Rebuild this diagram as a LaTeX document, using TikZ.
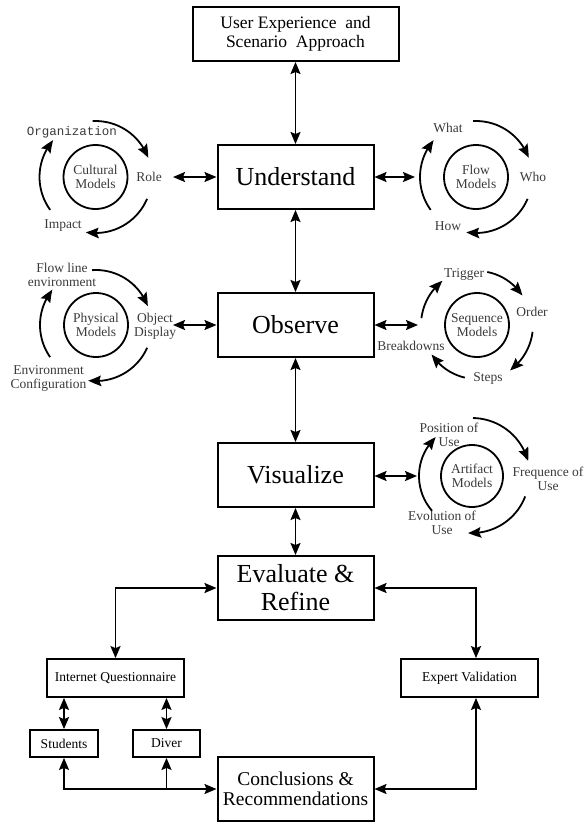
\documentclass[tikz,border=0pt]{standalone}
\usepackage{fontspec}
\setmainfont{Liberation Serif}
\newfontfamily\monofnt{Liberation Mono}
\usetikzlibrary{arrows.meta,bending}
\definecolor{lab}{HTML}{3A3A3A}
\begin{document}
\begin{tikzpicture}[x=1pt,y=1pt,
  box/.style={draw, line width=2pt, inner sep=0pt, align=center},
  bigbox/.style={box, minimum width=156pt, minimum height=64pt, font=\fontsize{26}{28}\selectfont},
  smallbox/.style={box, line width=1.8pt, minimum height=38pt, font=\fontsize{13.5}{14}\selectfont},
  tinybox/.style={box, line width=1.8pt, minimum height=27pt, font=\fontsize{13.5}{14}\selectfont},
  conn/.style={line width=1.8pt, {Stealth[length=12pt,width=10pt,inset=2pt]}-{Stealth[length=12pt,width=10pt,inset=2pt]}},
  oneway/.style={line width=1.8pt, -{Stealth[length=12pt,width=10pt,inset=2pt]}},
  cyc/.style={line width=1.8pt, -{Stealth[length=13pt,width=10.5pt,inset=2pt,bend]}},
  ring/.style={draw, circle, line width=1.8pt, minimum size=64pt, inner sep=0pt},
  lbl/.style={text=lab, align=center, inner sep=0pt, font=\fontsize{13.5}{14}\selectfont},
  inlbl/.style={lbl, font=\fontsize{13.5}{14.5}\selectfont}
]
\useasboundingbox (0,0) rectangle (587,-823);

% main boxes
\node[box, minimum width=206pt, minimum height=54pt, font=\fontsize{17.5}{18.5}\selectfont] (top) at (295.5,-34) {User Experience\ \ and\\Scenario\ \ Approach};
\node[bigbox] (und) at (295.5,-177) {Understand};
\node[bigbox] (obs) at (295.5,-325) {Observe};
\node[bigbox] (vis) at (295.5,-475) {Visualize};
\node[bigbox] (eval) at (295.5,-588) {Evaluate \&\\Refine};
\node[bigbox, font=\fontsize{19.5}{20.5}\selectfont] (conc) at (295.5,-789) {Conclusions \&\\Recommendations};
\node[smallbox, minimum width=137pt] (iq) at (115.5,-678) {Internet Questionnaire};
\node[smallbox, minimum width=137pt] (ev) at (469.5,-678) {Expert Validation};
\node[tinybox, minimum width=68pt] (stu) at (64,-743.5) {Students};
\node[tinybox, minimum width=67pt] (div) at (166.5,-743.5) {Diver};

% vertical chain
\draw[conn] (top) -- (und);
\draw[conn] (und) -- (obs);
\draw[conn] (obs) -- (vis);
\draw[conn] (vis) -- (eval);

% evaluation loop
\draw[conn] (eval.west) -| (iq.north);
\draw[conn] (eval.east) -| ([xshift=6.5pt]ev.north);
\draw[conn] (iq.south -| stu.north) -- (stu.north);
\draw[conn] (iq.south -| div.north) -- (div.north);
\draw[conn] (stu.south) |- (conc.west);
\draw[oneway] (div.south |- conc.west) -- (div.south);
\draw[conn] ([xshift=6.5pt]ev.south) |- (conc.east);

% Cultural models
\node[ring] (cm) at (95.5,-177) {};
\node[inlbl] (cmt) at (cm) {Cultural\\Models};
\node[lbl, font=\monofnt\fontsize{12.5}{13}\selectfont] (org) at (72,-132) {Organization};
\node[lbl] (role) at (149,-177) {Role};
\node[lbl] (imp) at (63,-226) {Impact};
\draw[cyc] ([shift={(93:56)}]cm.center) arc[start angle=93, end angle=20, radius=56];
\draw[cyc] ([shift={(-23:56)}]cm.center) arc[start angle=-23, end angle=-100, radius=56];
\draw[cyc] ([shift={(216:56)}]cm.center) arc[start angle=216, end angle=139, radius=56];
\coordinate (ul) at (173,-177);
\draw[conn] (und.west) -- (ul);

% Flow models
\node[ring] (fm) at (476,-177) {};
\node[inlbl] (fmt) at (fm) {Flow\\Models};
\node[lbl] (what) at (448,-128) {What};
\node[lbl] (who) at (533,-177) {Who};
\node[lbl] (how) at (448,-226) {How};
\draw[cyc] ([shift={(93:56)}]fm.center) arc[start angle=93, end angle=20, radius=56];
\draw[cyc] ([shift={(-23:56)}]fm.center) arc[start angle=-23, end angle=-100, radius=56];
\draw[cyc] ([shift={(216:56)}]fm.center) arc[start angle=216, end angle=139, radius=56];
\coordinate (ur) at (415,-177);
\draw[conn] (und.east) -- (ur);

% Physical models
\node[ring] (pm) at (96,-325) {};
\node[inlbl] (pmt) at (pm) {Physical\\Models};
\node[lbl] (flow) at (62,-275) {Flow line\\environment};
\node[lbl] (objd) at (155,-326) {Object\\Display};
\node[lbl] (envc) at (48.5,-378) {Environment\\Configuration};
\draw[cyc] ([shift={(94:55)}]pm.center) arc[start angle=94, end angle=20, radius=55];
\draw[cyc] ([shift={(-24:56)}]pm.center) arc[start angle=-24, end angle=-98, radius=56];
\draw[cyc] ([shift={(215:56)}]pm.center) arc[start angle=215, end angle=141, radius=56];
\coordinate (ol) at (173,-325);
\draw[conn] (obs.west) -- (ol);

% Sequence models
\node[ring] (sm) at (477,-325) {};
\node[inlbl] (smt) at (sm) {Sequence\\Models};
\node[lbl] (trig) at (464,-274) {Trigger};
\node[lbl] (ord) at (532,-312) {Order};
\node[lbl] (steps) at (488,-378) {Steps};
\node[lbl] (brk) at (411,-346) {Breakdowns};
\draw[cyc] ([shift={(173:56)}]sm.center) arc[start angle=173, end angle=128, radius=56];
\draw[cyc] ([shift={(79:54)}]sm.center) arc[start angle=79, end angle=33, radius=54];
\draw[cyc] ([shift={(-7:56)}]sm.center) arc[start angle=-7, end angle=-54, radius=56];
\draw[cyc] ([shift={(-103:54)}]sm.center) arc[start angle=-103, end angle=-147, radius=54];
\coordinate (or) at (418,-325);
\draw[conn] (obs.east) -- (or);

% Artifact models
\node[ring, minimum size=62pt] (am) at (472,-476) {};
\node[inlbl] (amt) at (am) {Artifact\\Models};
\node[lbl] (pos) at (449,-435) {Position of\\Use};
\node[lbl] (freq) at (548,-479) {Frequence of\\Use};
\node[lbl] (evo) at (442,-523) {Evolution of\\Use};
\draw[cyc] ([shift={(89:58)}]am.center) arc[start angle=89, end angle=15, radius=58];
\draw[cyc] ([shift={(-21:57)}]am.center) arc[start angle=-21, end angle=-94, radius=57];
\draw[cyc] ([shift={(221:53)}]am.center) arc[start angle=221, end angle=133, radius=53];
\coordinate (vr) at (417,-476);
\draw[conn] (vis.east |- vr) -- (vr);
\end{tikzpicture}
\end{document}
